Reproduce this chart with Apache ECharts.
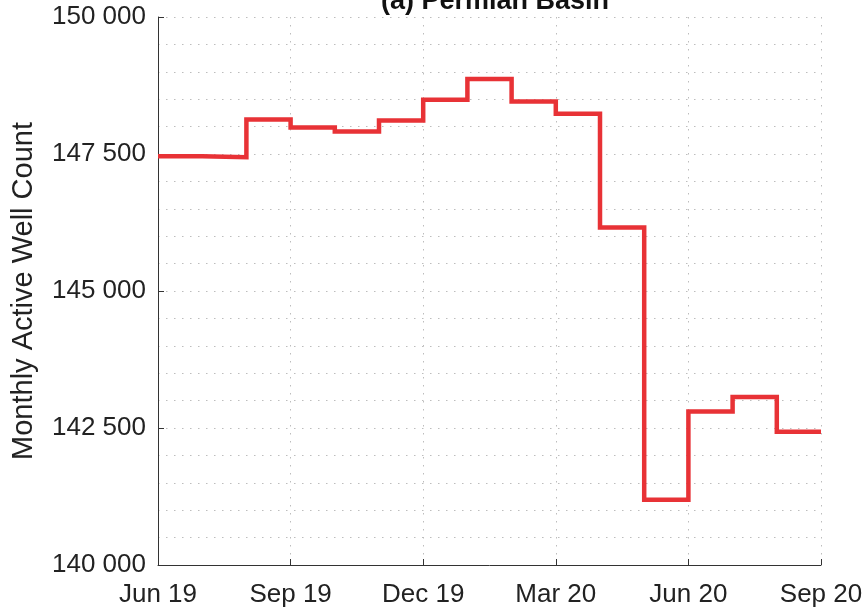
<!DOCTYPE html>
<html>
<head>
	<meta charset="utf-8" />
	<script src="https://cdn.jsdelivr.net/npm/echarts@6/dist/echarts.min.js"></script>
	<style>
		html,
		body {
			margin: 0;
			padding: 0;
			background: #fff;
		}
		#chart {
			width: 867px;
			height: 610px;
		}
	</style>
</head>
<body>
	<div id="chart"></div>
	<script>
		// monthly values, Jun 19 .. Sep 20 (last point only closes the stairs)
		const months = [
			"Jun 19", "Jul 19", "Aug 19", "Sep 19", "Oct 19", "Nov 19", "Dec 19", "Jan 20",
			"Feb 20", "Mar 20", "Apr 20", "May 20", "Jun 20", "Jul 20", "Aug 20", "Sep 20"
		]
		const wellCount = [
			147460, 147440, 148130, 147985, 147910, 148110, 148490, 148870,
			148460, 148235, 146160, 141190, 142800, 143065, 142430, 142430
		]
		const xTickLabels = ["Jun 19", "Sep 19", "Dec 19", "Mar 20", "Jun 20", "Sep 20"]

		const font = "'Liberation Sans', Arial, Helvetica, sans-serif"
		const dotted = {
			color: "#bdbdbd",
			width: 1,
			type: [1.5, 6.5]
		}

		function fmtThousands(v) {
			return String(v).replace(/\B(?=(\d{3})+(?!\d))/g, " ")
		}

		const chart = echarts.init(document.getElementById("chart"))
		chart.setOption({
			animation: false,
			title: {
				text: "(a) Permian Basin",
				left: 490,
				textAlign: "center",
				top: -17,
				textStyle: {
					fontFamily: font,
					fontWeight: "bold",
					fontSize: 27,
					color: "#111"
				}
			},
			grid: {
				left: 158,
				right: 46,
				top: 17,
				bottom: 45
			},
			xAxis: {
				type: "value",
				min: 0,
				max: 15,
				interval: 3,
				axisLine: {
					show: true,
					lineStyle: { color: "#333", width: 1 }
				},
				axisTick: {
					show: true,
					inside: true,
					length: 6,
					lineStyle: { color: "#333" }
				},
				axisLabel: {
					margin: 17,
					fontFamily: font,
					fontSize: 26,
					color: "#222",
					formatter: (v) => xTickLabels[v / 3]
				},
				splitLine: { show: true, lineStyle: dotted }
			},
			yAxis: {
				type: "value",
				min: 140000,
				max: 150000,
				interval: 2500,
				name: "Monthly Active Well Count",
				nameLocation: "middle",
				nameGap: 120,
				nameTextStyle: {
					fontFamily: font,
					fontSize: 29,
					color: "#222"
				},
				axisLine: {
					show: true,
					lineStyle: { color: "#333", width: 1 }
				},
				axisTick: {
					show: true,
					inside: true,
					length: 6,
					lineStyle: { color: "#333" }
				},
				axisLabel: {
					margin: 12,
					fontFamily: font,
					fontSize: 26,
					color: "#222",
					formatter: fmtThousands
				},
				splitLine: { show: true, lineStyle: dotted },
				minorTick: { show: false, splitNumber: 5 },
				minorSplitLine: { show: true, lineStyle: dotted }
			},
			series: [
				{
					type: "line",
					step: "end",
					data: months.map((m, i) => [i, wellCount[i]]),
					symbol: "none",
					lineStyle: {
						color: "#e83236",
						width: 4.5,
						join: "miter",
						cap: "butt"
					}
				}
			]
		})
	</script>
</body>
</html>
